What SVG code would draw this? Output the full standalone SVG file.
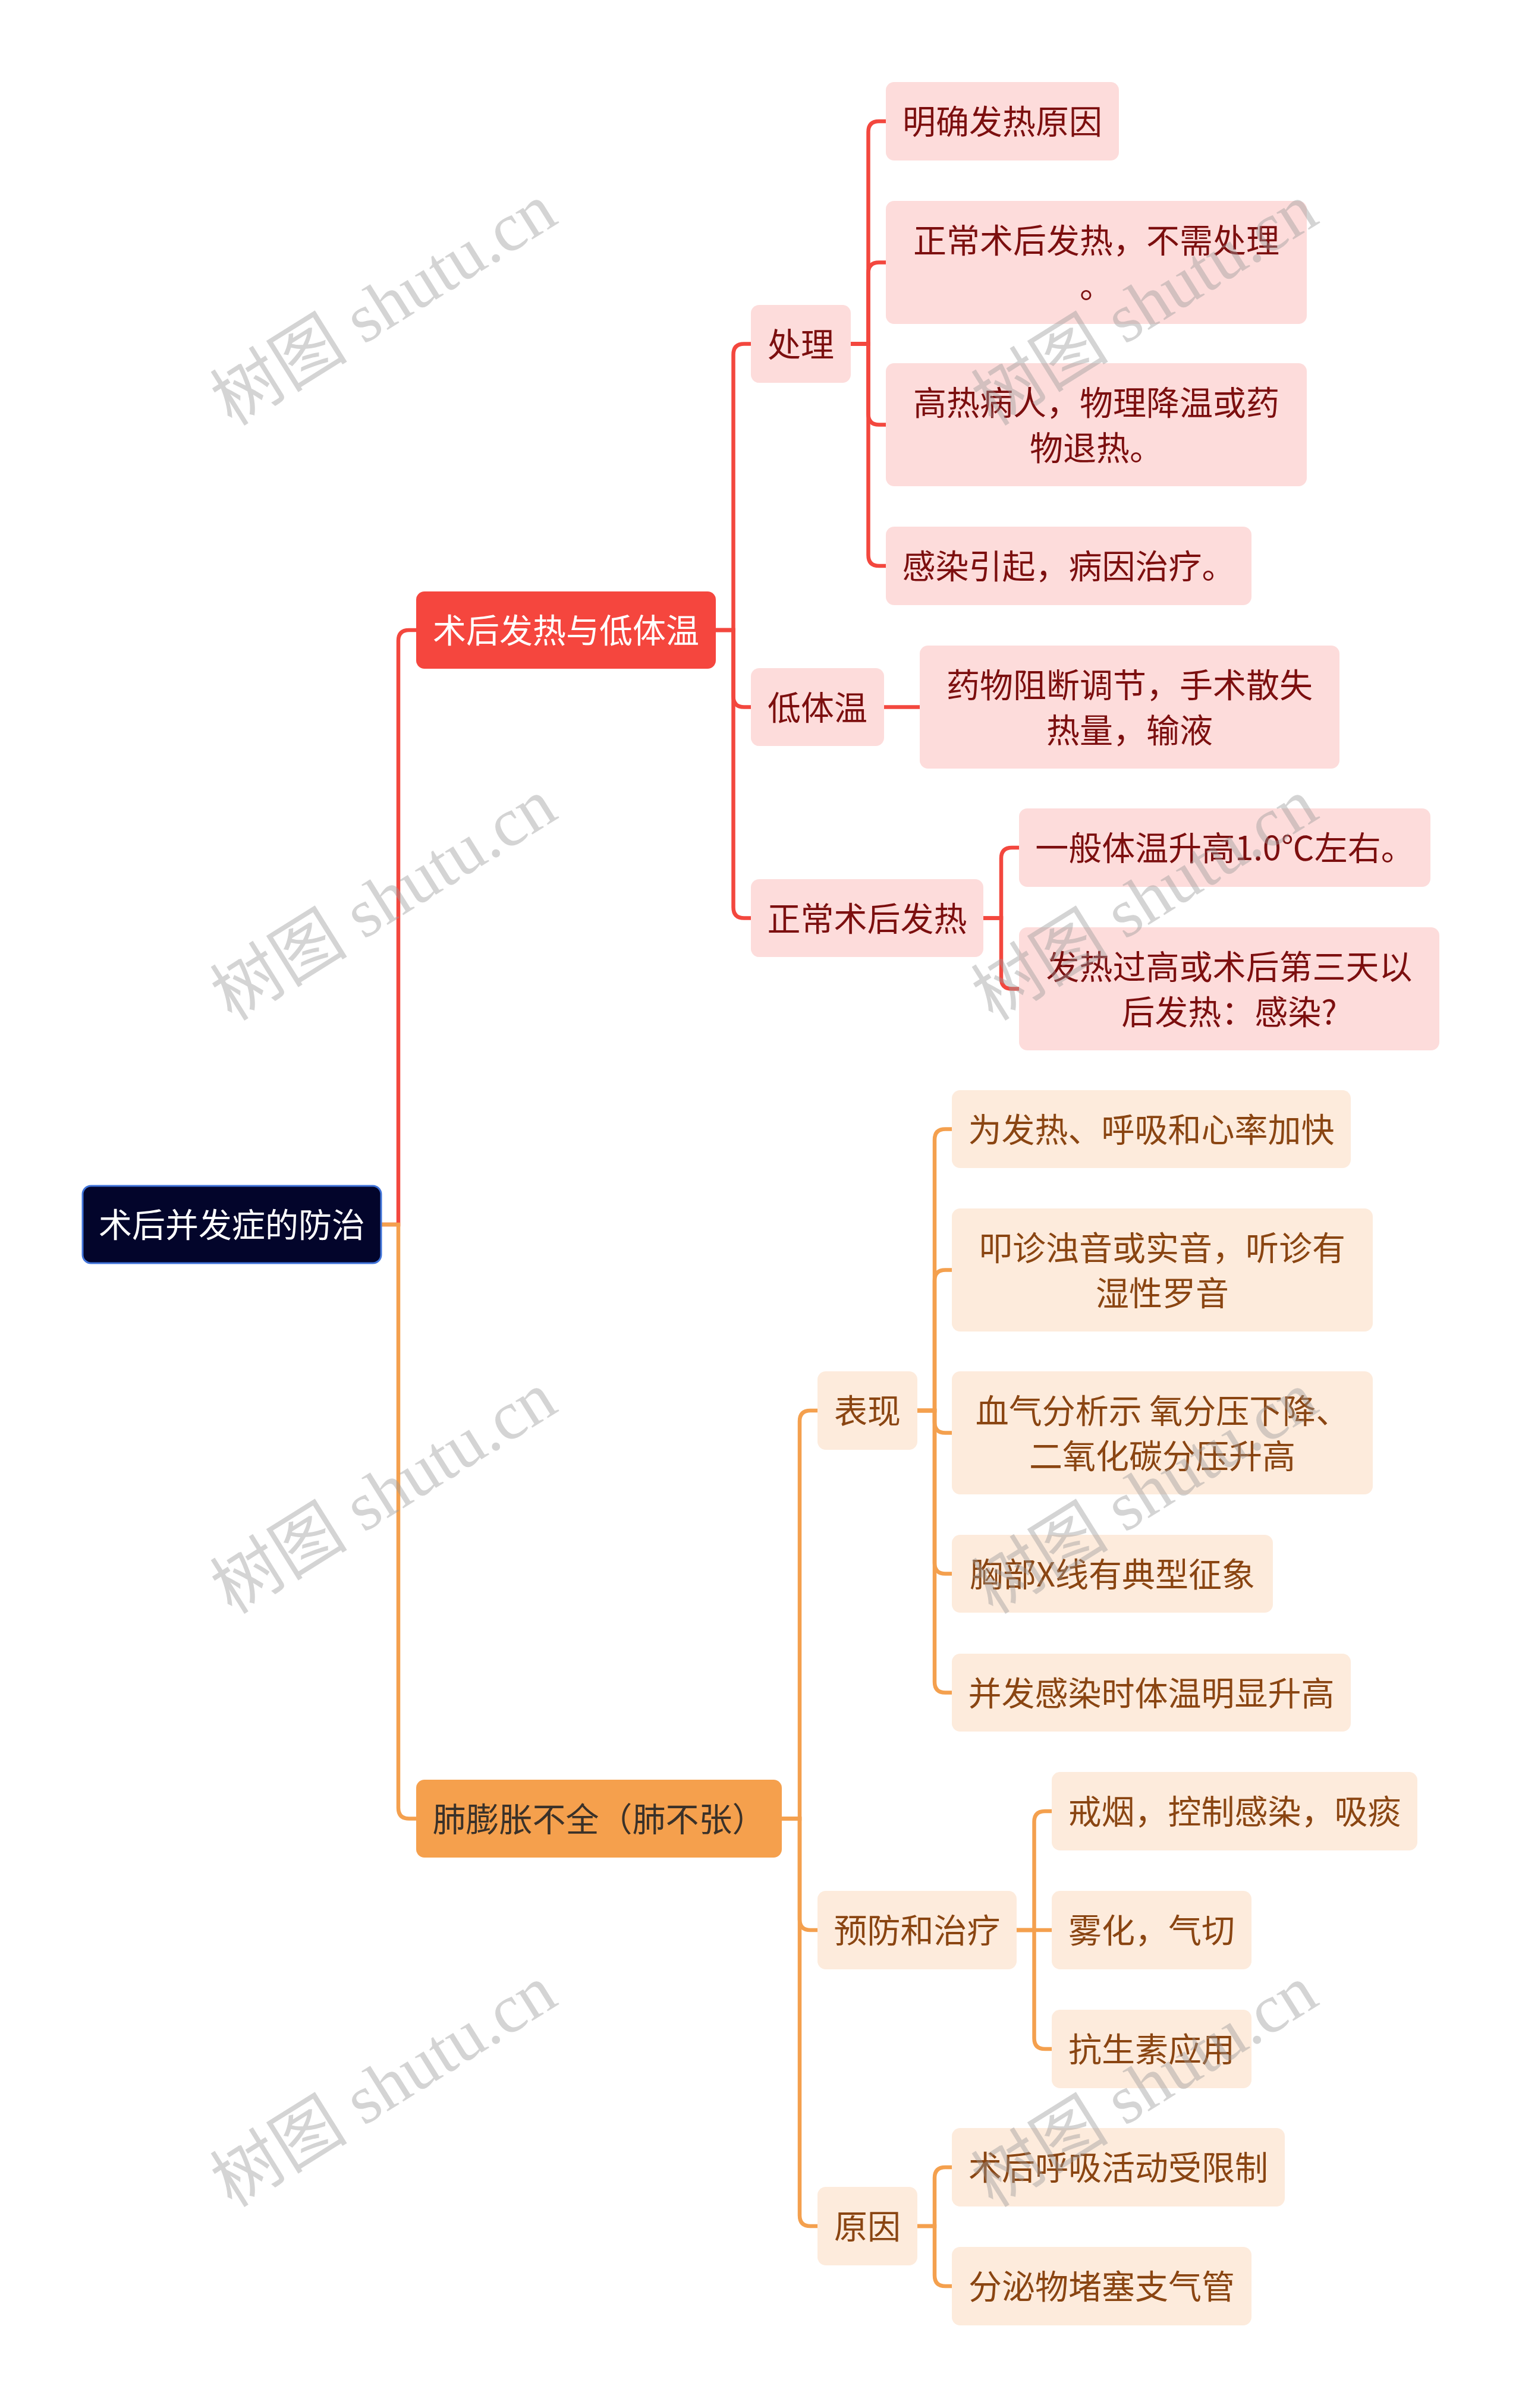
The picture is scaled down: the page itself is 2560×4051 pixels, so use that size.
<svg xmlns="http://www.w3.org/2000/svg" width="2560" height="4051" viewBox="0 0 2560 4051">
<style>
text{font-family:"Noto Sans CJK SC","Noto Sans",sans-serif;font-size:56px;text-anchor:middle}
.cr{fill:none;stroke:#f3473e;stroke-width:6.5}
.co{fill:none;stroke:#f4a04e;stroke-width:6.5}
.root rect{fill:#03052b;stroke:#3f73d9;stroke-width:3}
.root text{fill:#ffffff}
.a rect{fill:#f5463e}
.a text{fill:#ffffff}
.b rect{fill:#f5a04d}
.b text{fill:#3a3129}
.p rect{fill:#fddcdb}
.p text{fill:#7c0f0f}
.o rect{fill:#fdebdc}
.o text{fill:#8a4512}
.wm text{font-family:"Liberation Serif","Noto Sans CJK SC",serif;font-size:116px;fill:#999999;fill-opacity:0.42}
</style>
<rect width="2560" height="4051" fill="#ffffff"/>
<g id="connectors">
<path class="cr" d="M641 2060H670V1078Q670 1060 688 1060H700"/>
<path class="co" d="M641 2060H670V3041.5Q670 3059.5 688 3059.5H700"/>
<path class="cr" d="M1204 1060H1233.5V596.5Q1233.5 578.5 1251.5 578.5H1263"/>
<path class="cr" d="M1204 1060H1233.5V1171.5Q1233.5 1189.5 1251.5 1189.5H1263"/>
<path class="cr" d="M1204 1060H1233.5V1526.5Q1233.5 1544.5 1251.5 1544.5H1263"/>
<path class="cr" d="M1431 578.5H1460.5V222Q1460.5 204 1478.5 204H1490"/>
<path class="cr" d="M1431 578.5H1460.5V459.5Q1460.5 441.5 1478.5 441.5H1490"/>
<path class="cr" d="M1431 578.5H1460.5V696.5Q1460.5 714.5 1478.5 714.5H1490"/>
<path class="cr" d="M1431 578.5H1460.5V934Q1460.5 952 1478.5 952H1490"/>
<path class="cr" d="M1487 1189.5H1547"/>
<path class="cr" d="M1654 1544.5H1684V1444Q1684 1426 1702 1426H1714"/>
<path class="cr" d="M1654 1544.5H1684V1645.5Q1684 1663.5 1702 1663.5H1714"/>
<path class="co" d="M1315 3059.5H1345V2391Q1345 2373 1363 2373H1375"/>
<path class="co" d="M1315 3059.5H1345V3229Q1345 3247 1363 3247H1375"/>
<path class="co" d="M1315 3059.5H1345V3727Q1345 3745 1363 3745H1375"/>
<path class="co" d="M1543 2373H1572V1917.5Q1572 1899.5 1590 1899.5H1601"/>
<path class="co" d="M1543 2373H1572V2154.5Q1572 2136.5 1590 2136.5H1601"/>
<path class="co" d="M1543 2373H1572V2392.5Q1572 2410.5 1590 2410.5H1601"/>
<path class="co" d="M1543 2373H1572V2629.5Q1572 2647.5 1590 2647.5H1601"/>
<path class="co" d="M1543 2373H1572V2829.5Q1572 2847.5 1590 2847.5H1601"/>
<path class="co" d="M1710 3247H1739.5V3065Q1739.5 3047 1757.5 3047H1769"/>
<path class="co" d="M1710 3247H1769"/>
<path class="co" d="M1710 3247H1739.5V3429Q1739.5 3447 1757.5 3447H1769"/>
<path class="co" d="M1543 3745H1572V3664Q1572 3646 1590 3646H1601"/>
<path class="co" d="M1543 3745H1572V3828Q1572 3846 1590 3846H1601"/>
</g>
<g id="root" class="root"><rect x="139" y="1995" width="502" height="130" rx="14"/><text x="390" y="2081">术后并发症的防治</text></g>
<g id="n-fever" class="a"><rect x="700" y="995" width="504" height="130" rx="14"/><text x="952" y="1081">术后发热与低体温</text></g>
<g id="n-lung" class="b"><rect x="700" y="2994" width="615" height="131" rx="14"/><text x="1007.5" y="3080.5">肺膨胀不全（肺不张）</text></g>
<g id="n-treat" class="p"><rect x="1263" y="513" width="168" height="131" rx="14"/><text x="1347" y="599.5">处理</text></g>
<g id="n-low" class="p"><rect x="1263" y="1124" width="224" height="131" rx="14"/><text x="1375" y="1210.5">低体温</text></g>
<g id="n-normal" class="p"><rect x="1263" y="1479" width="391" height="131" rx="14"/><text x="1458.5" y="1565.5">正常术后发热</text></g>
<g id="n-t1" class="p"><rect x="1490" y="138" width="392" height="132" rx="14"/><text x="1686" y="225">明确发热原因</text></g>
<g id="n-t2" class="p"><rect x="1490" y="338" width="708" height="207" rx="14"/><text x="1844" y="424.5">正常术后发热，不需处理</text><text x="1844" y="500.5">。</text></g>
<g id="n-t3" class="p"><rect x="1490" y="611" width="708" height="207" rx="14"/><text x="1844" y="697.5">高热病人，物理降温或药</text><text x="1844" y="773.5">物退热。</text></g>
<g id="n-t4" class="p"><rect x="1490" y="886" width="615" height="132" rx="14"/><text x="1797.5" y="973">感染引起，病因治疗。</text></g>
<g id="n-l1" class="p"><rect x="1547" y="1086" width="706" height="207" rx="14"/><text x="1900" y="1172.5">药物阻断调节，手术散失</text><text x="1900" y="1248.5">热量，输液</text></g>
<g id="n-n1" class="p"><rect x="1714" y="1360" width="692" height="132" rx="14"/><text x="2060" y="1447">一般体温升高1.0℃左右。</text></g>
<g id="n-n2" class="p"><rect x="1714" y="1560" width="707" height="207" rx="14"/><text x="2067.5" y="1646.5">发热过高或术后第三天以</text><text x="2067.5" y="1722.5">后发热：感染?</text></g>
<g id="n-show" class="o"><rect x="1375" y="2307" width="168" height="132" rx="14"/><text x="1459" y="2394">表现</text></g>
<g id="n-prev" class="o"><rect x="1375" y="3181" width="335" height="132" rx="14"/><text x="1542.5" y="3268">预防和治疗</text></g>
<g id="n-cause" class="o"><rect x="1375" y="3679" width="168" height="132" rx="14"/><text x="1459" y="3766">原因</text></g>
<g id="n-s1" class="o"><rect x="1601" y="1834" width="671" height="131" rx="14"/><text x="1936.5" y="1920.5">为发热、呼吸和心率加快</text></g>
<g id="n-s2" class="o"><rect x="1601" y="2033" width="708" height="207" rx="14"/><text x="1955" y="2119.5">叩诊浊音或实音，听诊有</text><text x="1955" y="2195.5">湿性罗音</text></g>
<g id="n-s3" class="o"><rect x="1601" y="2307" width="708" height="207" rx="14"/><text x="1955" y="2393.5">血气分析示 氧分压下降、</text><text x="1955" y="2469.5">二氧化碳分压升高</text></g>
<g id="n-s4" class="o"><rect x="1601" y="2582" width="540" height="131" rx="14"/><text x="1871" y="2668.5">胸部X线有典型征象</text></g>
<g id="n-s5" class="o"><rect x="1601" y="2782" width="671" height="131" rx="14"/><text x="1936.5" y="2868.5">并发感染时体温明显升高</text></g>
<g id="n-p1" class="o"><rect x="1769" y="2981" width="615" height="132" rx="14"/><text x="2076.5" y="3068">戒烟，控制感染，吸痰</text></g>
<g id="n-p2" class="o"><rect x="1769" y="3181" width="336" height="132" rx="14"/><text x="1937" y="3268">雾化，气切</text></g>
<g id="n-p3" class="o"><rect x="1769" y="3381" width="336" height="132" rx="14"/><text x="1937" y="3468">抗生素应用</text></g>
<g id="n-c1" class="o"><rect x="1601" y="3580" width="560" height="132" rx="14"/><text x="1881" y="3667">术后呼吸活动受限制</text></g>
<g id="n-c2" class="o"><rect x="1601" y="3780" width="504" height="132" rx="14"/><text x="1853" y="3867">分泌物堵塞支气管</text></g>
<g id="watermarks" class="wm">
<g transform="translate(645 512) rotate(-32)"><text x="0" y="40">树图 shutu.cn</text></g>
<g transform="translate(645 1513) rotate(-32)"><text x="0" y="40">树图 shutu.cn</text></g>
<g transform="translate(645 2511) rotate(-32)"><text x="0" y="40">树图 shutu.cn</text></g>
<g transform="translate(645 3509) rotate(-32)"><text x="0" y="40">树图 shutu.cn</text></g>
<g transform="translate(1925 512) rotate(-32)"><text x="0" y="40">树图 shutu.cn</text></g>
<g transform="translate(1925 1513) rotate(-32)"><text x="0" y="40">树图 shutu.cn</text></g>
<g transform="translate(1925 2511) rotate(-32)"><text x="0" y="40">树图 shutu.cn</text></g>
<g transform="translate(1925 3509) rotate(-32)"><text x="0" y="40">树图 shutu.cn</text></g>
</g>
</svg>
